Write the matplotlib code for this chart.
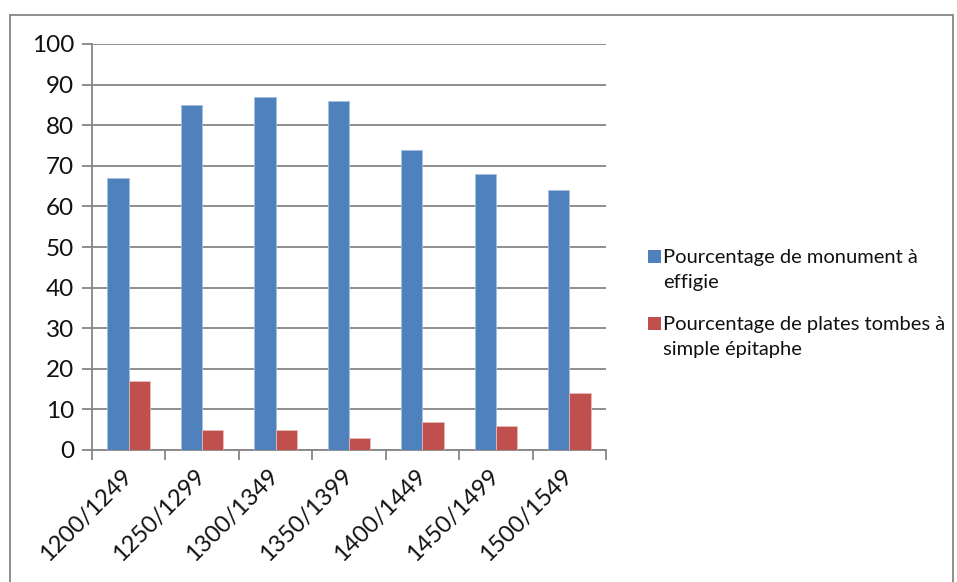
import matplotlib.pyplot as plt
import numpy as np
from matplotlib.patches import Rectangle
from matplotlib.transforms import ScaledTranslation

# Data
periods = ['1200/1249', '1250/1299', '1300/1349', '1350/1399', '1400/1449', '1450/1499', '1500/1549']
effigie = [67, 85, 87, 86, 74, 68, 64]
epitaphe = [17, 5, 5, 3, 7, 6, 14]
legend_lines = [['Pourcentage de monument à', 'effigie'],
                ['Pourcentage de plates tombes à', 'simple épitaphe']]
colors = ['#4F81BD', '#C0504D']

plt.rcParams['font.family'] = ['Lato', 'DejaVu Sans']

fig = plt.figure(figsize=(9.57, 5.82), dpi=100)
ax = fig.add_axes([92 / 957, 1 - 450 / 582, (606 - 92) / 957, (450 - 44) / 582])

x = np.arange(len(periods))
w = 0.29
ax.bar(x - w / 2, effigie, w, color=colors[0], edgecolor='#A7BFDE', linewidth=0.6, zorder=3)
ax.bar(x + w / 2, epitaphe, w, color=colors[1], edgecolor='#E6B9B8', linewidth=0.6, zorder=3)

ax.set_xlim(-0.5, len(periods) - 0.5)
ax.set_ylim(0, 100)
ax.set_yticks(range(0, 101, 10))
ax.yaxis.grid(True, color='#868686', linewidth=1.3, zorder=0)
for s in ['top', 'right']:
    ax.spines[s].set_visible(False)
for s in ['left', 'bottom']:
    ax.spines[s].set_color('#868686')
    ax.spines[s].set_linewidth(1.3)

ax.set_xticks(np.arange(-0.5, len(periods)), minor=False)
ax.set_xticklabels([])
ax.set_xticks(x, minor=True)
ax.set_xticklabels(periods, minor=True, rotation=45, ha='right', va='center',
                   rotation_mode='anchor', fontsize=17, color='#111111')
shift = ScaledTranslation(7 / 100, -2 / 100, fig.dpi_scale_trans)
for lab in ax.get_xticklabels(minor=True):
    lab.set_transform(lab.get_transform() + shift)
ax.tick_params(axis='x', which='major', length=7, width=1.3, color='#868686', direction='out')
ax.tick_params(axis='x', which='minor', length=0, pad=16)
ax.tick_params(axis='y', length=7, width=1.3, color='#868686', labelsize=17.5, pad=6,
               labelcolor='#111111')

# outer chart border
fig.patches.append(Rectangle((10 / 957, -0.05), (953 - 10) / 957, 1 - 15 / 582 + 0.05,
                             transform=fig.transFigure, fill=False, edgecolor='#868686', linewidth=1.3))

# legend
baselines = [[263, 288], [330, 355]]
for lines, c, bl in zip(legend_lines, colors, baselines):
    fig.patches.append(Rectangle((648 / 957, 1 - (bl[0]) / 582), 13 / 957, 13 / 582,
                                 transform=fig.transFigure, facecolor=c, edgecolor='none'))
    for txt, b in zip(lines, bl):
        fig.text(663 / 957, 1 - b / 582, txt, fontsize=14.5, va='baseline', ha='left',
                 color='#111111')

fig.savefig('out.png', dpi=100)
